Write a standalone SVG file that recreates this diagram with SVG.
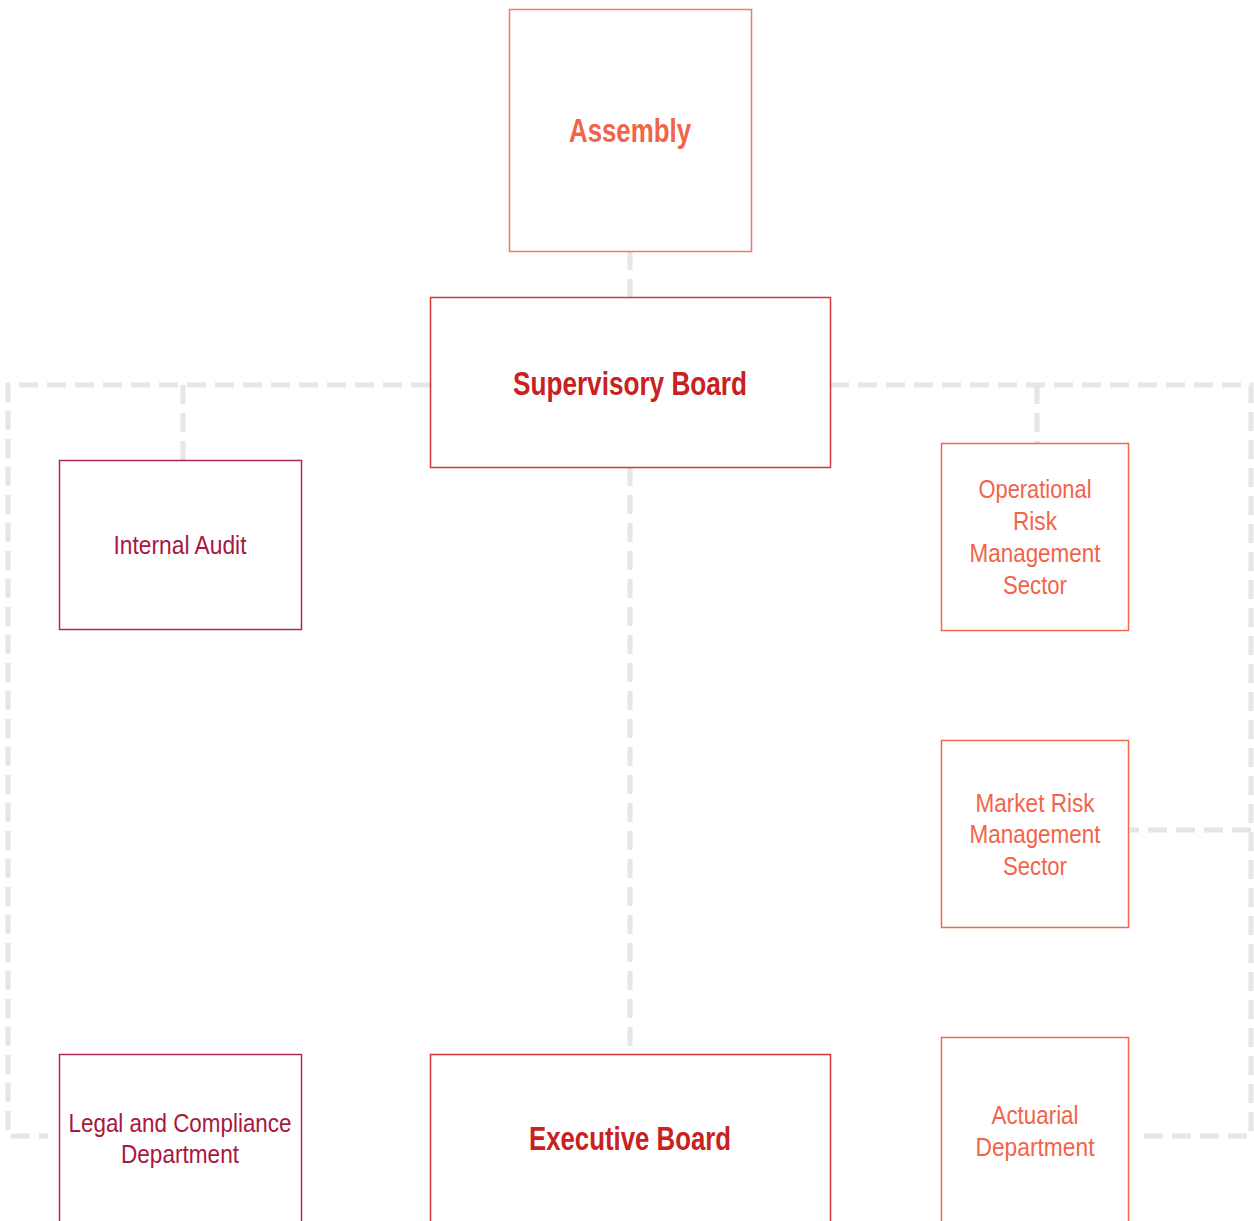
<svg xmlns="http://www.w3.org/2000/svg" width="1254" height="1221" viewBox="0 0 1254 1221">
<style>
.box{fill:#fff;stroke-width:1.5}
.c{fill:none;stroke:#e6e6e6;stroke-width:5;stroke-dasharray:19 9}
text{font-family:"Liberation Sans Narrow","Liberation Sans",Arial,sans-serif;text-anchor:middle}
.b{font-weight:bold;font-size:34px}
.r{font-size:26px}
.salmon{fill:#f2644a}
.red{fill:#c8211e}
.crim{fill:#a8173f}
</style>
<rect width="1254" height="1221" fill="#fff"/>
<g id="connectors">
<path class="c" d="M630 251V297"/>
<path class="c" d="M430 385H8V1136H48"/>
<path class="c" d="M183 385V460"/>
<path class="c" d="M830 385H1251V1136H1138"/>
<path class="c" d="M1037 385V443"/>
<path class="c" d="M1251 830H1130"/>
<path class="c" d="M630 467V1054"/>
</g>
<g id="assembly">
<rect class="box" x="509.5" y="9.5" width="242" height="242" stroke="#f07a66"/>
<text class="b salmon" x="630" y="142" textLength="122" lengthAdjust="spacingAndGlyphs">Assembly</text>
</g>
<g id="supervisory-board">
<rect class="box" x="430.5" y="297.5" width="400" height="170" stroke="#d4363a"/>
<text class="b red" x="630" y="395" textLength="234" lengthAdjust="spacingAndGlyphs">Supervisory Board</text>
</g>
<g id="internal-audit">
<rect class="box" x="59.5" y="460.5" width="242" height="169" stroke="#b02a50"/>
<text class="r crim" x="180" y="554" textLength="133" lengthAdjust="spacingAndGlyphs">Internal Audit</text>
</g>
<g id="operational-risk">
<rect class="box" x="941.5" y="443.5" width="187" height="187" stroke="#f2684e"/>
<text class="r salmon" x="1035" y="498" textLength="113" lengthAdjust="spacingAndGlyphs">Operational</text>
<text class="r salmon" x="1035" y="530" textLength="44" lengthAdjust="spacingAndGlyphs">Risk</text>
<text class="r salmon" x="1035" y="562" textLength="131" lengthAdjust="spacingAndGlyphs">Management</text>
<text class="r salmon" x="1035" y="594" textLength="64" lengthAdjust="spacingAndGlyphs">Sector</text>
</g>
<g id="market-risk">
<rect class="box" x="941.5" y="740.5" width="187" height="187" stroke="#f2684e"/>
<text class="r salmon" x="1035" y="812" textLength="119" lengthAdjust="spacingAndGlyphs">Market Risk</text>
<text class="r salmon" x="1035" y="843" textLength="131" lengthAdjust="spacingAndGlyphs">Management</text>
<text class="r salmon" x="1035" y="875" textLength="64" lengthAdjust="spacingAndGlyphs">Sector</text>
</g>
<g id="actuarial">
<rect class="box" x="941.5" y="1037.5" width="187" height="200" stroke="#f2684e"/>
<text class="r salmon" x="1035" y="1124" textLength="87" lengthAdjust="spacingAndGlyphs">Actuarial</text>
<text class="r salmon" x="1035" y="1156" textLength="119" lengthAdjust="spacingAndGlyphs">Department</text>
</g>
<g id="legal-compliance">
<rect class="box" x="59.5" y="1054.5" width="242" height="200" stroke="#b02a50"/>
<text class="r crim" x="180" y="1132" textLength="223" lengthAdjust="spacingAndGlyphs">Legal and Compliance</text>
<text class="r crim" x="180" y="1163" textLength="118" lengthAdjust="spacingAndGlyphs">Department</text>
</g>
<g id="executive-board">
<rect class="box" x="430.5" y="1054.5" width="400" height="200" stroke="#d4363a"/>
<text class="b red" x="630" y="1150" textLength="202" lengthAdjust="spacingAndGlyphs">Executive Board</text>
</g>
</svg>
